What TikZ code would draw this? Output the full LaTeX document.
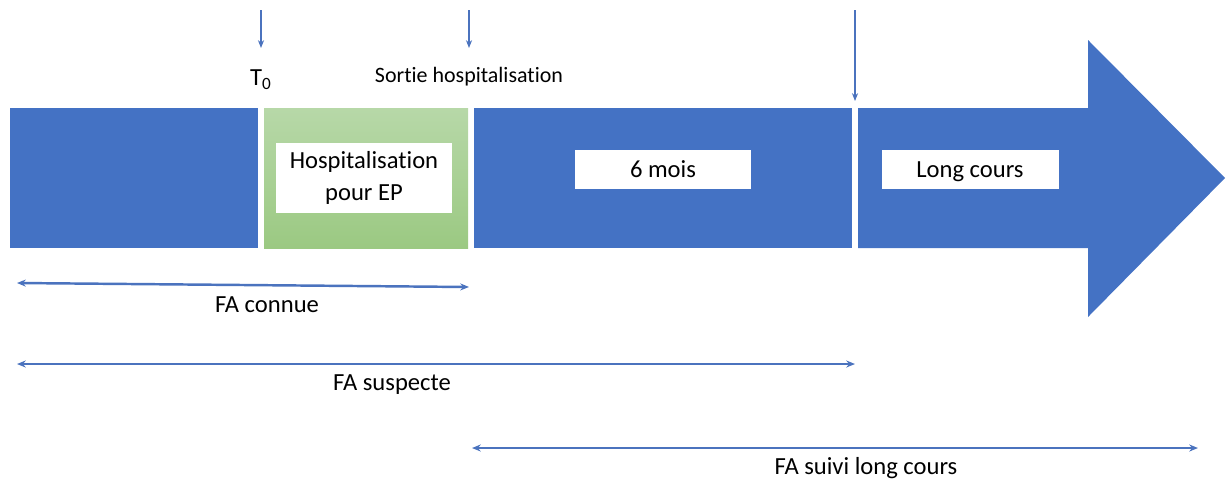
\documentclass[tikz,border=0pt]{standalone}
\usepackage{fontspec}
\setmainfont{Carlito}[Ligatures=NoCommon]
\usetikzlibrary{arrows.meta,positioning}
\definecolor{cBand}{RGB}{68,114,196}
\definecolor{cLine}{RGB}{75,115,190}
\definecolor{cGreenTop}{RGB}{183,216,168}
\definecolor{cGreenBot}{RGB}{155,201,130}
\begin{document}
\begin{tikzpicture}[
    x=0.02cm, y=-0.02cm,
    label/.style={fill=white,inner sep=0pt,font=\fontsize{14}{18}\selectfont,align=center},
    oneline/.style={label,minimum width=3.54cm,minimum height=0.78cm,text height=11pt,text depth=1.5pt},
    txt/.style={inner sep=0pt,font=\fontsize{14}{17}\selectfont},
    marker/.style={cLine,line width=0.6pt,-{Stealth[length=4.5pt,width=3.5pt]}},
    span/.style={cLine,line width=1.4pt,{Stealth[length=5pt,width=4pt]}-{Stealth[length=5pt,width=4pt]}}
  ]
  \useasboundingbox (0,0) rectangle (1226,481);
  % Band
  \fill[cBand] (10,108) rectangle (258,248);
  \shade[top color=cGreenTop,bottom color=cGreenBot] (264,108) rectangle (468,248);
  \fill[cBand] (474,108) rectangle (852,248);
  \fill[cBand] (858,108) -- (1088,108) -- (1088,40) -- (1225,178) -- (1088,317)
    -- (1088,248) -- (858,248) -- cycle;
  % Boxes
  \node[label,minimum width=3.52cm,minimum height=1.4cm] (hosp) at (364,178) {Hospitalisation\\pour EP};
  \node[oneline] (mois) at (663,169) {6 mois};
  \node[oneline] (long) at (970,169) {Long cours};
  % Markers
  \node[txt] (t0) at (261,80) {T\textsubscript{0}};
  \node[txt,font=\fontsize{12.5}{15}\selectfont] (sortie) at (469,77) {Sortie hospitalisation};
  \foreach \n/\x/\y in {a/261/48, b/469/48, c/855/101} {
    \coordinate (top\n) at (\x,10);
    \coordinate (end\n) at (\x,\y);
    \draw[marker] (top\n) -- (end\n);
  }
  % Spans
  \coordinate (ca) at (17,283);
  \coordinate (cb) at (469,287);
  \coordinate (sa) at (17,364);
  \coordinate (sb) at (855,364);
  \coordinate (la) at (472,448);
  \coordinate (lb) at (1198,448);
  \draw[span] (ca) -- (cb);
  \draw[span] (sa) -- (sb);
  \draw[span] (la) -- (lb);
  \node[txt] (connue) at (267,305) {FA connue};
  \node[txt] (suspecte) at (392,385) {FA suspecte};
  \node[txt] (suivi) at (866,468) {FA suivi long cours};
\end{tikzpicture}
\end{document}
